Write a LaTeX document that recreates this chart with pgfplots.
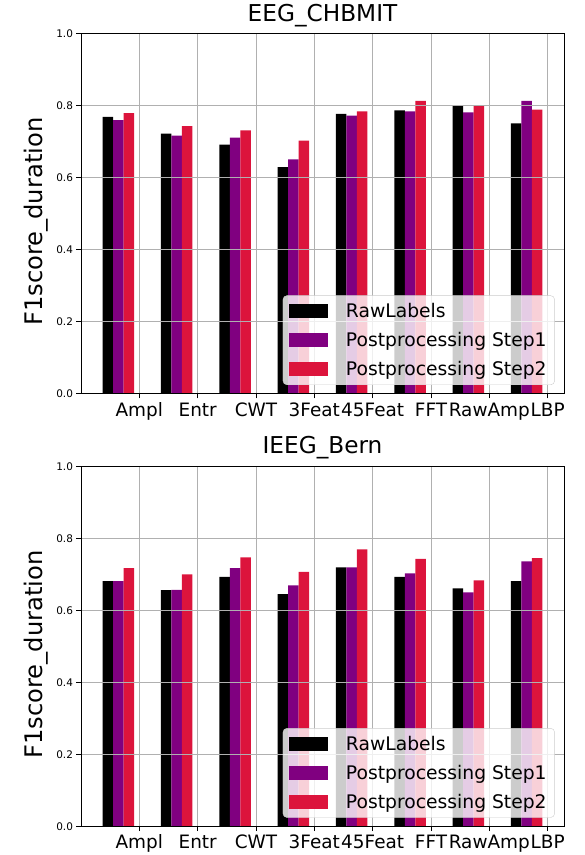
\documentclass[border=0pt]{standalone}
\usepackage{fontspec}
\setmainfont{DejaVu Sans}
\usepackage{pgfplots}
\usepackage{pgfplotstable}
\pgfplotsset{compat=1.18}
\definecolor{rawc}{HTML}{000000}
\definecolor{sonec}{HTML}{800080}
\definecolor{stwoc}{HTML}{DC143C}
\definecolor{gridc}{HTML}{B0B0B0}
\definecolor{legc}{HTML}{CCCCCC}

\pgfplotstableread{
g raw s1 s2
0 0.770 0.761 0.780
1 0.723 0.718 0.744
2 0.693 0.712 0.732
3 0.630 0.652 0.704
4 0.778 0.773 0.785
5 0.788 0.785 0.814
6 0.802 0.782 0.802
7 0.752 0.814 0.790
}\tabtop

\pgfplotstableread{
g raw s1 s2
0 0.682 0.682 0.718
1 0.657 0.658 0.701
2 0.694 0.718 0.748
3 0.646 0.670 0.708
4 0.720 0.720 0.770
5 0.694 0.704 0.744
6 0.662 0.651 0.684
7 0.682 0.737 0.746
}\tabbot

\pgfplotsset{
  mylegimg/.style={legend image code/.code={\fill[##1, fill opacity=1, sharp corners] (0bp,-7bp) rectangle (39bp,7bp); \path (55bp,0bp);}},
  myaxis/.style={
    scale only axis, width=483bp, height=360bp,
    xmin=-0.64, xmax=7.64, ymin=0, ymax=1,
    ybar=0pt, bar width=0.18,
    xtick={0.36,1.36,2.36,3.36,4.36,5.36,6.36,7.36},
    xticklabels={Ampl,Entr,CWT,3Feat,45Feat,FFT,RawAmp,LBP},
    ytick={0,0.2,0.4,0.6,0.8,1.0},
    /pgf/number format/assume math mode=true,
    yticklabel style={/pgf/number format/.cd, fixed, fixed zerofill, precision=1, /tikz/.cd, font=\fontsize{10.5}{12}\selectfont},
    xticklabel style={font=\fontsize{18.5}{22}\selectfont, text height=14bp, text depth=4bp},
    xmajorgrids, ymajorgrids,
    major grid style={gridc, line width=1bp},
    axis on top,
    tick align=outside, major tick length=4.5bp,
    tick style={black, line width=1bp},
    axis line style={black, line width=1bp},
    xtick pos=bottom, ytick pos=left,
    title style={at={(0.5,1)}, anchor=base, yshift=7bp, font=\fontsize{23.3}{28}\selectfont},
    ylabel={F1score\_duration},
    ylabel style={at={(axis description cs:-0.0793,0.4786)}, anchor=base, font=\fontsize{24.3}{29}\selectfont},
    legend cell align=left,
    legend style={at={(0.981,0.025)}, anchor=south east, fill=white, fill opacity=0.8, text opacity=1, draw opacity=1,
      draw=legc, rounded corners=4bp, font=\fontsize{18.8}{22}\selectfont, row sep=9bp, inner sep=6bp,
      nodes={inner sep=2bp}},
  }
}

\begin{document}
\begin{tikzpicture}
\useasboundingbox (0,0) rectangle (585bp,855bp);
\begin{axis}[myaxis, at={(81bp,461bp)}, anchor=south west, title={EEG\_CHBMIT}]
\addplot[fill=rawc, draw=none, mylegimg] table[x=g, y=raw] {\tabtop};
\addplot[fill=sonec, draw=none, mylegimg] table[x=g, y=s1] {\tabtop};
\addplot[fill=stwoc, draw=none, mylegimg] table[x=g, y=s2] {\tabtop};
\legend{RawLabels, Postprocessing Step1, Postprocessing Step2}
\end{axis}
\begin{axis}[myaxis, at={(81bp,28.3bp)}, anchor=south west, title={IEEG\_Bern}]
\addplot[fill=rawc, draw=none, mylegimg] table[x=g, y=raw] {\tabbot};
\addplot[fill=sonec, draw=none, mylegimg] table[x=g, y=s1] {\tabbot};
\addplot[fill=stwoc, draw=none, mylegimg] table[x=g, y=s2] {\tabbot};
\legend{RawLabels, Postprocessing Step1, Postprocessing Step2}
\end{axis}
\end{tikzpicture}
\end{document}
